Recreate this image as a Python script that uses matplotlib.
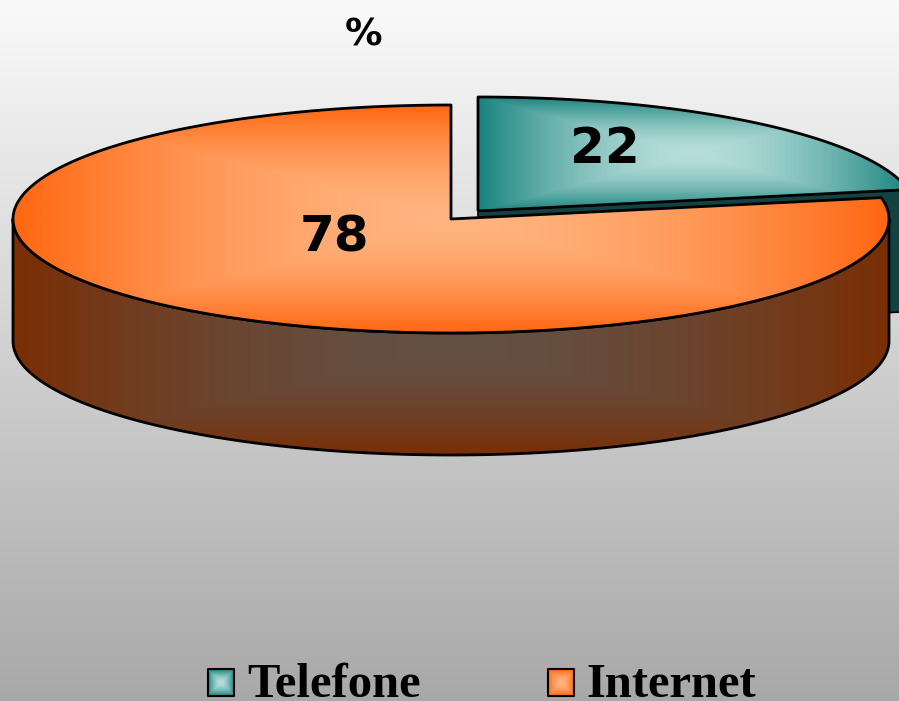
import numpy as np
import matplotlib
matplotlib.use('Agg')
import matplotlib.pyplot as plt
from matplotlib.patches import Polygon

# Dados
categorias = ['Telefone', 'Internet']
valores = [22, 78]
titulo = '%'

W, H = 899, 701
teal_borda, teal_centro = (24, 130, 125), (182, 222, 218)
lar_borda, lar_centro = (255, 102, 16), (255, 180, 128)
lado_borda, lado_centro = (122, 46, 4), (100, 80, 68)
teal_lado = (18, 66, 66)

fig = plt.figure(figsize=(W / 100, H / 100), dpi=100)
ax = fig.add_axes([0, 0, 1, 1])
ax.set_xlim(0, W)
ax.set_ylim(H, 0)
ax.axis('off')

xx, yy = np.meshgrid(np.arange(W) + 0.5, np.arange(H) + 0.5)
extent = (0, W, H, 0)


def gradiente(cx, cy, hx, hy, borda, centro, gama=1.7):
    # gradiente retangular, do centro para a borda
    t = np.clip(np.maximum(np.abs(xx - cx) / hx, np.abs(yy - cy) / hy), 0, 1)[..., None] ** gama
    return (np.array(centro) * (1 - t) + np.array(borda) * t) / 255


def arco(cx, cy, a1, a2):
    # angulo em graus, sentido horario a partir do topo
    a = np.radians(np.linspace(a1, a2, 300))
    return np.column_stack([cx + RX * np.sin(a), cy - RY * np.cos(a)])


def pintar(pts, img, z, lw=2.0):
    pat = Polygon(pts, closed=True, fc='none', ec='black', lw=lw, zorder=z + 0.1, joinstyle='round')
    ax.add_patch(pat)
    im = ax.imshow(img, extent=extent, zorder=z, aspect='auto', interpolation='bilinear')
    im.set_clip_path(Polygon(pts, closed=True, transform=ax.transData))


RX, RY, PROF = 438, 114, 122
CX, CY = 451, 219    # fatia Internet
TX, TY = 478, 211    # fatia Telefone, destacada

# fundo
g = (250 - (yy / H) * 82) / 255
ax.imshow(np.dstack([g, g, g]), extent=extent, zorder=0, aspect='auto')

ang = 360 * valores[0] / sum(valores)

# Telefone: face de corte e topo
canto = np.array([TX, TY])
ponta = arco(TX, TY, ang, ang)[0]
face = np.array([canto, ponta, ponta + [0, PROF], canto + [0, PROF]])
ax.add_patch(Polygon(face, closed=True, fc=np.array(teal_lado) / 255, ec='black', lw=1.2, zorder=1))
topo_t = np.vstack([canto, arco(TX, TY, 0, ang)])
pintar(topo_t, gradiente(694, 154, 216, 57, teal_borda, teal_centro), 2)

# Internet: lateral e topo
frente = arco(CX, CY, 90, 270)
lado = np.vstack([frente, (frente + [0, PROF])[::-1]])
pintar(lado, gradiente(CX, 345, RX, 110, lado_borda, lado_centro), 3)
topo_i = np.vstack([[CX, CY], arco(CX, CY, ang, 360)])
pintar(topo_i, gradiente(CX, CY, RX, RY, lar_borda, lar_centro), 4)

# rotulos
ax.text(605, 149, str(valores[0]), fontsize=36, fontweight='bold', family='DejaVu Sans',
        ha='center', va='center', zorder=6)
ax.text(334, 237, str(valores[1]), fontsize=36, fontweight='bold', family='DejaVu Sans',
        ha='center', va='center', zorder=6)
ax.text(363.5, 35, titulo, fontsize=27, fontweight='bold', family='DejaVu Sans',
        ha='center', va='center', zorder=6)

# legenda
legenda = [(208, 247, teal_borda, teal_centro), (548, 586, lar_borda, lar_centro)]
for nome, (xq, xt, borda, centro) in zip(categorias, legenda):
    img = gradiente(xq + 13, 682.5, 13, 13, borda, centro)
    cantos = [(xq, 669), (xq + 26, 669), (xq + 26, 696), (xq, 696)]
    pintar(cantos, img, 5, lw=1.5)
    ax.text(xt, 697, nome, fontsize=35, fontweight='bold', family='Liberation Serif',
            ha='left', va='baseline', zorder=6)

ax.set_xlim(0, W)
ax.set_ylim(H, 0)
fig.savefig('out.png', dpi=100)
